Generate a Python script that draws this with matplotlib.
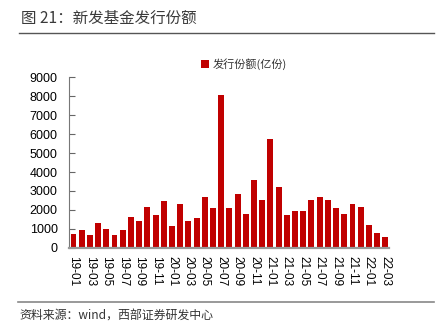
import matplotlib

matplotlib.use("Agg")
import matplotlib.pyplot as plt
from matplotlib.lines import Line2D

# monthly issuance of new funds, 2019-01 .. 2022-03 (亿份)
months = [
    "19-01", "19-02", "19-03", "19-04", "19-05", "19-06", "19-07", "19-08", "19-09", "19-10",
    "19-11", "19-12", "20-01", "20-02", "20-03", "20-04", "20-05", "20-06", "20-07", "20-08",
    "20-09", "20-10", "20-11", "20-12", "21-01", "21-02", "21-03", "21-04", "21-05", "21-06",
    "21-07", "21-08", "21-09", "21-10", "21-11", "21-12", "22-01", "22-02", "22-03",
]
shares = [
    740, 970, 700, 1290, 990, 690, 950, 1620, 1430, 2180,
    1710, 2450, 1140, 2290, 1440, 1570, 2660, 2080, 8050, 2080,
    2830, 1810, 3590, 2500, 5740, 3220, 1760, 1950, 1940, 2520,
    2690, 2520, 2100, 1800, 2310, 2180, 1210, 790, 580,
]
series_name = "发行份额(亿份)"
title = "图 21：新发基金发行份额"
source = "资料来源：wind，西部证券研发中心"

RED = "#C00000"
CJK = ["Noto Sans CJK SC", "DejaVu Sans"]
LATIN = ["Liberation Sans", "DejaVu Sans"]

fig = plt.figure(figsize=(4.42, 3.31), dpi=100)
ax = fig.add_axes([0.157, 0.251, 0.724, 0.516])

x = list(range(len(months)))
ax.bar(x, shares, width=0.72, color=RED, label=series_name, zorder=2)

ax.set_xlim(-0.5, len(months) - 0.5)
ax.set_ylim(0, 9000)
ax.set_yticks(range(0, 9001, 1000))
ax.set_xticks(x[::2])
ax.set_xticklabels(months[::2], rotation=-90, fontsize=8.5, family=LATIN)
for lab in ax.get_yticklabels():
    lab.set_family(LATIN)
    lab.set_fontsize(9)

ax.tick_params(axis="y", direction="in", length=4, pad=8.5, color="#666666")
ax.tick_params(axis="x", length=0, pad=6)
for side in ("top", "right"):
    ax.spines[side].set_visible(False)
ax.spines["left"].set_color("#777777")
ax.spines["left"].set_linewidth(0.8)
ax.spines["bottom"].set_color("#999999")
ax.spines["bottom"].set_linewidth(1.6)
ax.spines["bottom"].set_zorder(3)

leg = ax.legend(
    loc="center", bbox_to_anchor=(0.545, 1.075), frameon=False,
    prop={"family": CJK, "size": 8}, handlelength=0.7, handleheight=0.7, handletextpad=0.3,
)
for t in leg.get_texts():
    t.set_color("#333333")

fig.text(0.047, 0.946, title, family=CJK, fontsize=11.2, color="#3a3a3a", va="center")
fig.add_artist(Line2D([0.043, 0.982], [0.9, 0.9], color="#555555", linewidth=1.0))
fig.add_artist(Line2D([0.041, 0.982], [0.088, 0.088], color="#888888", linewidth=1.2))
fig.text(0.045, 0.045, source, family=CJK, fontsize=8.6, color="#333333", va="center")

fig.savefig("out.png", dpi=100)
